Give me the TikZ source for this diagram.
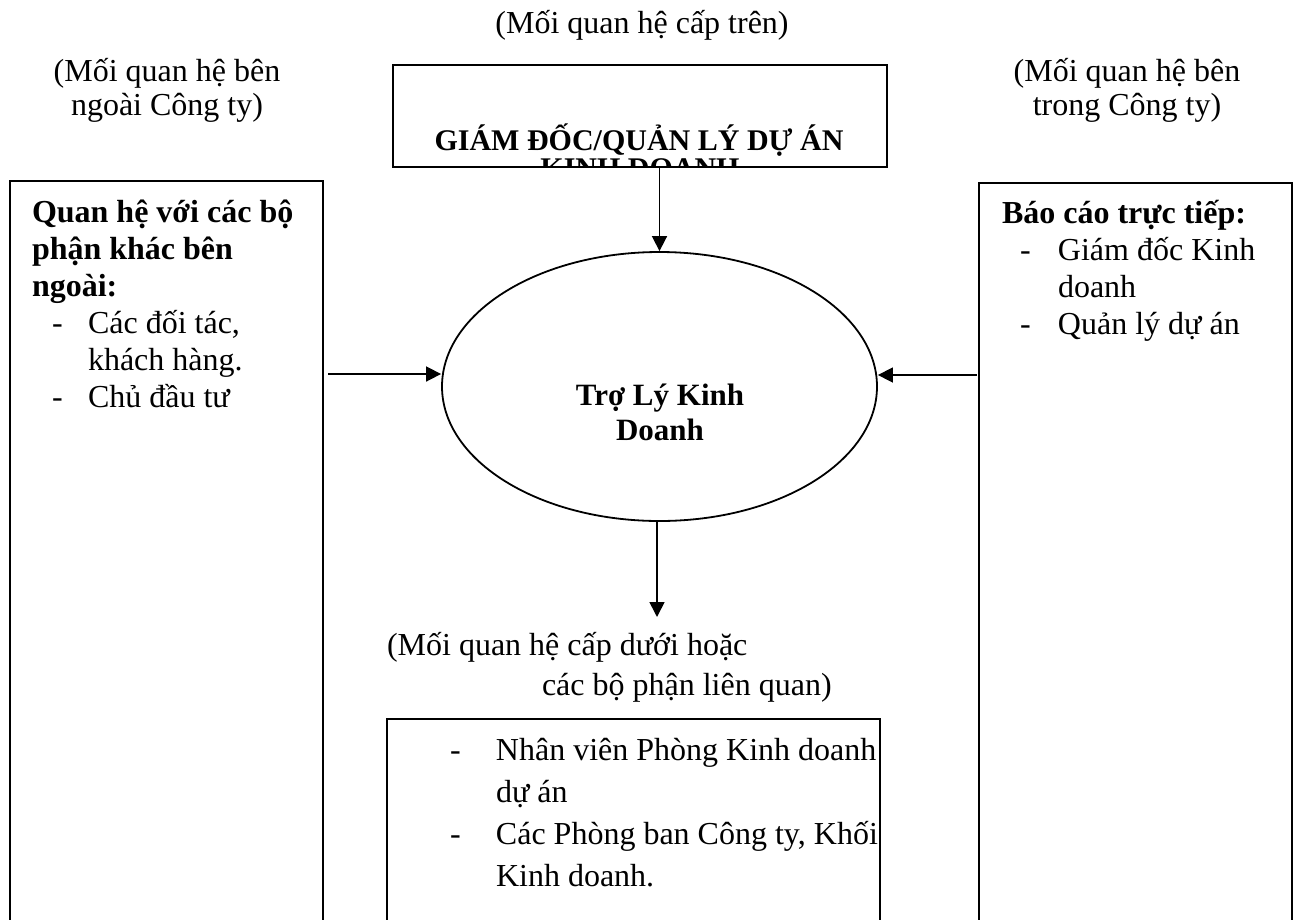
\documentclass[tikz,border=0pt]{standalone}
\usepackage{fontspec}
\setmainfont{Liberation Serif}
\usetikzlibrary{shapes.geometric,arrows.meta}
\newcommand\dashitem[2]{\hspace*{#1}\makebox[#2][l]{-}}
\begin{document}
\begin{tikzpicture}[x=1pt,y=-1pt,
  box/.style={draw, line width=2.2pt, rectangle, inner sep=0pt, outer sep=0pt, anchor=north west},
  conn/.style={line width=1.6pt, -{Triangle[length=15pt,width=15pt]}},
  txt/.style={inner sep=0pt, outer sep=0pt, font=\fontsize{32}{37}\selectfont},
  lbl/.style={inner sep=0pt, outer sep=0pt, align=center, anchor=base, font=\fontsize{32}{34}\selectfont},
  boldtxt/.style={inner sep=0pt, outer sep=0pt, align=center, anchor=base, font=\bfseries\fontsize{31}{35}\selectfont}]
\useasboundingbox (0,0) rectangle (1293,919);
\clip (0,0) rectangle (1293,919);
\fill[white] (0,0) rectangle (1293,919);

% labels (base anchor = baseline of last line)
\node[lbl] (ltop) at (642,33) {(Mối quan hệ cấp trên)};
\node[lbl] (lleft) at (167,115) {(Mối quan hệ bên\\ngoài Công ty)};
\node[lbl] (lright) at (1127,115) {(Mối quan hệ bên\\trong Công ty)};

% top box
\node[box, minimum width=494pt, minimum height=102pt] (gd) at (393,65) {};
\begin{scope}
  \clip (393,100) rectangle (887,165);
  \node[boldtxt, font=\bfseries\fontsize{30}{30}\selectfont] (kd) at (640,178) {KINH DOANH};
\end{scope}
\node[boldtxt, font=\bfseries\fontsize{30}{30}\selectfont] (gdt) at (639,150) {GIÁM ĐỐC/QUẢN LÝ DỰ ÁN};

% side boxes
\node[box, minimum width=313pt, minimum height=800pt] (lbox) at (10,181) {};
\node[box, minimum width=313pt, minimum height=800pt] (rbox) at (979,183) {};
\node[box, minimum width=493pt, minimum height=300pt] (bbox) at (387,719) {};

% ellipse
\node[draw, ellipse, line width=1.8pt, minimum width=435pt, minimum height=269pt, inner sep=0pt] (ell) at (659.5,386.5) {};
\node[boldtxt] (tro) at (660,440) {Trợ Lý Kinh\\Doanh};

% left box text
\node[txt, anchor=base west, align=left] (ltxt) at (32,407)
{\textbf{Quan hệ với các bộ}\\
 \textbf{phận khác bên}\\
 \textbf{ngoài:}\\
 \dashitem{20pt}{36pt}Các đối tác,\\
 \hspace*{56pt}khách hàng.\\
 \dashitem{20pt}{36pt}Chủ đầu tư};

% right box text
\node[txt, anchor=base west, align=left] (rtxt) at (1002,334)
{\textbf{Báo cáo trực tiếp:}\\
 \dashitem{18pt}{38pt}Giám đốc Kinh\\
 \hspace*{56pt}doanh\\
 \dashitem{18pt}{38pt}Quản lý dự án};

% bottom label
\node[txt, anchor=base west, align=left, font=\fontsize{32}{40}\selectfont] (lbot) at (387,695)
{(Mối quan hệ cấp dưới hoặc\\
 \hspace*{155pt}các bộ phận liên quan)};

% bottom box text
\node[txt, anchor=base west, align=left, font=\fontsize{32}{42}\selectfont] (btxt) at (450,886)
{\dashitem{0pt}{46pt}Nhân viên Phòng Kinh doanh\\
 \hspace*{46pt}dự án\\
 \dashitem{0pt}{46pt}Các Phòng ban Công ty, Khối\\
 \hspace*{46pt}Kinh doanh.};

% connectors
\coordinate (la) at (328,374);
\coordinate (ra) at (977,375);
\coordinate (ba) at (657,617);
\draw[conn] (ell.north |- gd.south) -- (ell.north);
\draw[conn] (la) -- (la -| ell.west);
\draw[conn] (ra) -- (ra -| ell.east);
\draw[conn] (ell.south -| ba) -- (ba);
\end{tikzpicture}
\end{document}
